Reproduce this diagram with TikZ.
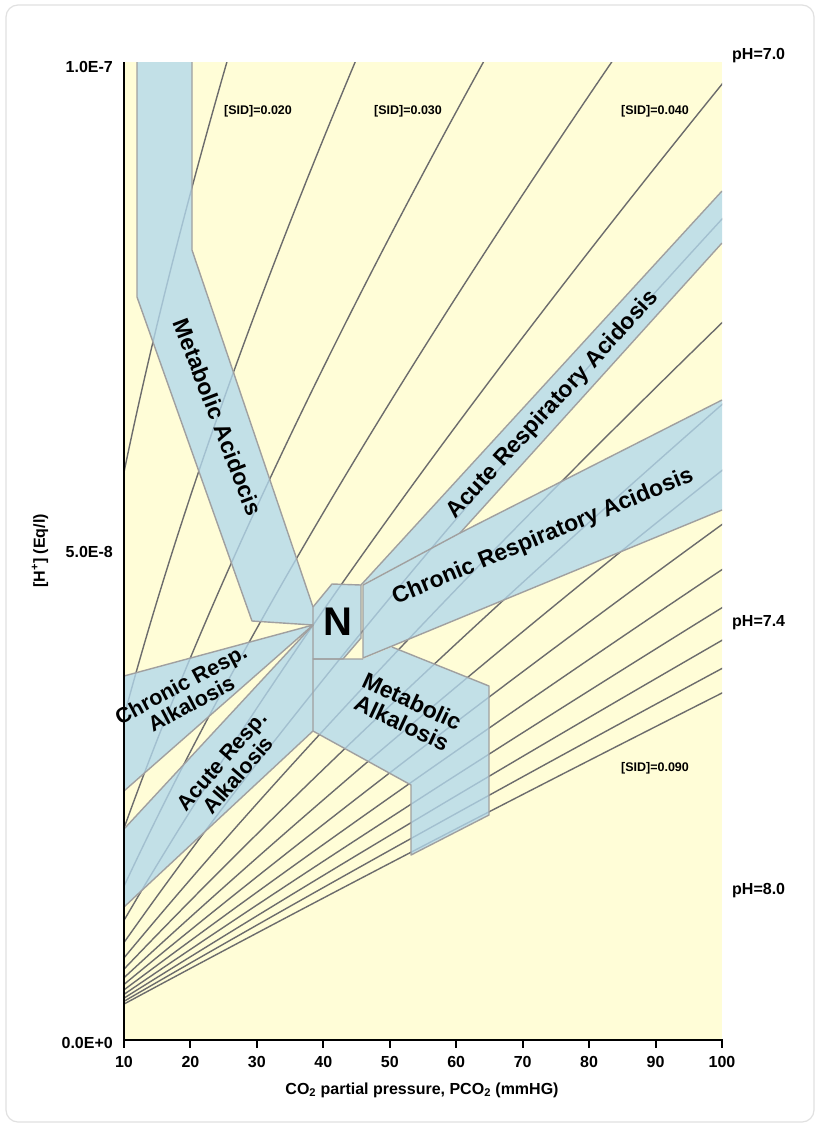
\documentclass[tikz,border=0pt]{standalone}
\usepackage{fontspec}
\setmainfont{Liberation Sans}
\definecolor{bgyellow}{RGB}{255,253,215}
\definecolor{bandblue}{RGB}{178,216,236}
\definecolor{edgegray}{RGB}{160,160,160}
\definecolor{curvegray}{RGB}{108,108,108}
\definecolor{framegray}{RGB}{225,225,225}
\tikzset{
  curve/.style={draw=curvegray, line width=1.4pt},
  bandfill/.style={fill=bandblue, fill opacity=0.78},
  bandedge/.style={draw=edgegray, line width=1.4pt, line join=round},
  axislbl/.style={font=\bfseries\fontsize{16}{18}\selectfont, inner sep=0pt},
  sidlbl/.style={font=\bfseries\fontsize{12.5}{14}\selectfont, inner sep=0pt},
  regionlbl/.style={font=\bfseries\fontsize{23}{24}\selectfont, inner sep=0pt, align=center},
  smallregionlbl/.style={font=\bfseries\fontsize{21.5}{22}\selectfont, inner sep=0pt, align=center},
}
\begin{document}
\begin{tikzpicture}[x=1pt,y=-1pt]
\useasboundingbox (0,0) rectangle (819,1128);
\fill[white] (0,0) rectangle (819,1128);
\draw[framegray, line width=1.2pt, rounded corners=12pt] (6,5) rectangle (814,1122);
% plot area
\fill[bgyellow] (124,62) rectangle (722,1040);
\begin{scope}
\clip (124,62) rectangle (722,1040);
\foreach \s in {20,25,...,90}{
  \draw[curve] plot[domain=0.25:10.4, samples=180, variable=\h]
    ({124+6.6444*(\h*(\s-408/(20.45+\h))/2.59-10)},{1040-97.8*\h});
}
% bands: fills
\fill[bandfill] (137,62) -- (192,62) -- (192,250) -- (313,607) -- (313,625) -- (252,621) -- (137,297) -- cycle;
\fill[bandfill] (361,585) -- (722,191) -- (722,243) -- (460,533) -- cycle;
\fill[bandfill] (363,585) -- (460,533) -- (722,400) -- (722,510) -- (363,658) -- cycle;
\fill[bandfill] (313,607) -- (332,584) -- (361,585) -- (361,638) -- (343,659) -- (313,659) -- cycle;
\fill[bandfill] (313,659) -- (363,659) -- (392,647) -- (489,686) -- (489,815) -- (411,855) -- (411,785) -- (313,731) -- cycle;
\fill[bandfill] (313,625) -- (124,676) -- (124,791) -- cycle;
\fill[bandfill] (313,625) -- (124,829) -- (124,907) -- (313,731) -- cycle;
% bands: edges
\draw[bandedge] (137,62) -- (137,297) -- (252,621) -- (313,625);
\draw[bandedge] (192,62) -- (192,250) -- (313,607);
\draw[bandedge] (361,585) -- (722,191);
\draw[bandedge] (722,243) -- (460,533);
\draw[bandedge] (363,585) -- (460,533) -- (722,400);
\draw[bandedge] (722,510) -- (363,658) -- (363,585);
\draw[bandedge] (313,607) -- (332,584) -- (361,585) -- (361,638) -- (343,659) -- (313,659) -- cycle;
\draw[bandedge] (363,659) -- (313,659) -- (313,731) -- (411,785) -- (411,855) -- (489,815) -- (489,686) -- (392,647);
\draw[bandedge] (124,676) -- (313,625) -- (124,791);
\draw[bandedge] (124,829) -- (313,625);
\draw[bandedge] (124,907) -- (313,731);
\end{scope}
% axes
\draw[black, line width=2pt] (124,62) -- (124,1041);
\draw[black, line width=2pt] (123,1040) -- (723,1040);
\foreach \i in {0,...,9}{
  \draw[black, line width=2pt] ({124+66.444*\i},1040) -- ({124+66.444*\i},1048);
  \pgfmathtruncatemacro{\v}{10+10*\i}
  \node[axislbl] (xt\i) at ({124+66.444*\i},1062) {\v};
}
\node[axislbl, anchor=east] (y1) at (113,67) {1.0E-7};
\node[axislbl, anchor=east] (y2) at (113,552) {5.0E-8};
\node[axislbl, anchor=east] (y3) at (113,1043) {0.0E+0};
\node[axislbl, rotate=90] (ytitle) at (40,551) {[H\textsuperscript{+}]\ (Eq/l)};
\node[axislbl] (xtitle) at (422,1090) {CO\textsubscript{2} partial pressure, PCO\textsubscript{2} (mmHG)};
% pH labels
\node[axislbl, anchor=west] (ph70) at (732,56) {pH=7.0};
\node[axislbl, anchor=west] (ph74) at (732,623) {pH=7.4};
\node[axislbl, anchor=west] (ph80) at (732,891) {pH=8.0};
% SID labels
\node[sidlbl] (sid20) at (258,111) {[SID]=0.020};
\node[sidlbl] (sid30) at (408,111) {[SID]=0.030};
\node[sidlbl] (sid40) at (655,111) {[SID]=0.040};
\node[sidlbl] (sid90) at (655,768) {[SID]=0.090};
% region labels
\node[regionlbl, rotate=-69] (metacid) at (218,417) {Metabolic Acidocis};
\node[regionlbl, rotate=47.5] (acuteacid) at (553,405) {Acute Respiratory Acidosis};
\node[regionlbl, rotate=22.5] (chronacid) at (543,537) {Chronic Respiratory Acidosis};
\node[smallregionlbl, rotate=28] (chronalk) at (186,694) {Chronic Resp.\\Alkalosis};
\node[smallregionlbl, rotate=49] (acutealk) at (230,768) {Acute Resp.\\Alkalosis};
\node[regionlbl, rotate=-25] (metalk) at (407,712) {Metabolic\\Alkalosis};
\node[font=\bfseries\fontsize{40}{42}\selectfont, inner sep=0pt] (N) at (338,622) {N};
\end{tikzpicture}
\end{document}
